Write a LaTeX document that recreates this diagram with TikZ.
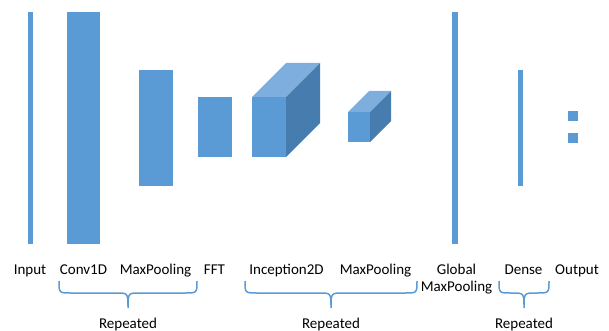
\documentclass[tikz,border=0pt]{standalone}
\usepackage{fontspec}
\setmainfont{Carlito}
\usetikzlibrary{positioning}

\definecolor{layerblue}{HTML}{5B9BD5}
\definecolor{layertop}{HTML}{7DAEDD}
\definecolor{layerside}{HTML}{477DAE}

% 3D block: front top-left x, y, width, height, depth
\newcommand{\layercube}[5]{
    \fill[layerblue] (#1,#2) rectangle ++(#3,#4);
    \fill[layertop] (#1,#2) -- ++(#5,-#5) -- ++(#3,0) -- ++(-#5,#5) -- cycle;
    \fill[layerside] ({#1+#3},#2) -- ++(#5,-#5) -- ++(0,#4) -- ++(-#5,#5) -- cycle;
}

% curly brace under labels: left x, right x
\newcommand{\repbrace}[2]{
    \draw[bracestyle] (#1,281) .. controls (#1,293) .. ({#1+12},293)
        -- ({(#1+#2)/2-12},293) .. controls ({(#1+#2)/2},293) .. ({(#1+#2)/2},308)
        .. controls ({(#1+#2)/2},293) .. ({(#1+#2)/2+12},293)
        -- ({#2-12},293) .. controls (#2,293) .. (#2,281);
}

\tikzset{
    lbl/.style={font=\fontsize{15}{17.3}\selectfont, inner sep=0pt, anchor=base},
    bracestyle/.style={draw=layerblue, line width=1.5pt},
}

\begin{document}
\begin{tikzpicture}[x=1pt, y=-1pt]
            \useasboundingbox (0,0) rectangle (609,331);

            % 1D layers
            \fill[layerblue] (28,12) rectangle (33,244);
            \fill[layerblue] (67,12) rectangle (100,244);
            \fill[layerblue] (139,70) rectangle (173,186);
            \fill[layerblue] (198,97) rectangle (232,157);

            % 2D layers
            \layercube{252}{97}{34}{60}{34}
            \layercube{348}{112}{22}{30}{21}

            % dense part
            \fill[layerblue] (452,12) rectangle (458,244);
            \fill[layerblue] (518,70) rectangle (523,186);
            \fill[layerblue] (568,111) rectangle (578,121);
            \fill[layerblue] (568,133) rectangle (578,143);

            % layer names
            \foreach \x/\t/\n in {30/Input/in, 83.5/Conv1D/conv, 155.5/MaxPooling/pool, 214.5/FFT/fft,
                    286.5/Inception2D/incep, 375.5/MaxPooling/pooltwo, 523.5/Dense/dense, 577/Output/out}
                \node[lbl] (lab-\n) at (\x,274) {\t};
            \node[lbl, align=center] (lab-gmp) at (456.5,291.5) {Global\\MaxPooling};

            % repeated blocks
            \repbrace{59}{197}
            \repbrace{245}{417}
            \repbrace{499}{549}
            \node[lbl] (rep-a) at (128,328) {Repeated};
            \node[lbl] (rep-b) at (331,328) {Repeated};
            \node[lbl] (rep-c) at (524,328) {Repeated};
        \end{tikzpicture}
\end{document}
